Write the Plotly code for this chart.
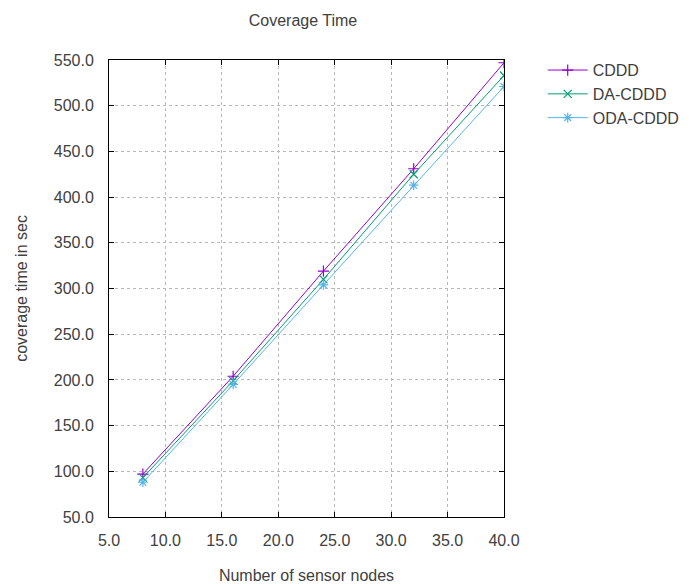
import plotly.graph_objects as go

nodes = [8, 16, 24, 32, 40]
cddd = [97, 204, 319, 431, 547]
da_cddd = [93, 199, 310, 425, 533]
oda_cddd = [88, 195, 304, 413, 521]

series_names = ["CDDD", "DA-CDDD", "ODA-CDDD"]
colors = ["#9400D3", "#009E73", "#56B4E9"]
symbols = ["cross-thin", "x-thin", "asterisk"]

fig = go.Figure()
for name, vals, col, sym in zip(series_names, [cddd, da_cddd, oda_cddd], colors, symbols):
    fig.add_trace(go.Scatter(
        x=nodes, y=vals, name=name, mode="lines+markers",
        line=dict(color=col, width=1),
        marker=dict(symbol=sym, size=8, color=col, line=dict(color=col, width=1.2)),
    ))

font = "Liberation Sans, Arial, sans-serif"
txt = "#404040"
axis_common = dict(
    showgrid=True, gridcolor="#b8b8b8", griddash="dot", gridwidth=1,
    showline=True, linecolor="black", linewidth=1, mirror="ticks",
    ticks="inside", ticklen=5, tickcolor="black",
    zeroline=False, tickformat=".1f",
    tickfont=dict(family=font, size=16, color=txt),
    title_font=dict(family=font, size=16, color=txt),
)
fig.update_layout(
    width=700, height=584,
    margin=dict(l=101, r=204, t=52, b=75),
    plot_bgcolor="white", paper_bgcolor="white",
    title=dict(text="Coverage Time", x=295 / 700, xanchor="center", y=1 - 12 / 584, yanchor="middle",
               font=dict(family=font, size=16, color=txt)),
    xaxis=dict(range=[5, 40], dtick=5, ticklabelstandoff=9,
               title=dict(text="Number of sensor nodes", standoff=21), **axis_common),
    yaxis=dict(range=[50, 550], dtick=50, ticklabelstandoff=11,
               title=dict(text="coverage time in sec", standoff=22), **axis_common),
    legend=dict(x=1.098, y=1.015, xanchor="left", yanchor="top", bgcolor="rgba(0,0,0,0)",
                font=dict(family=font, size=16, color=txt), tracegroupgap=0, itemwidth=40),
    showlegend=True,
)
fig.write_html("out.html")
